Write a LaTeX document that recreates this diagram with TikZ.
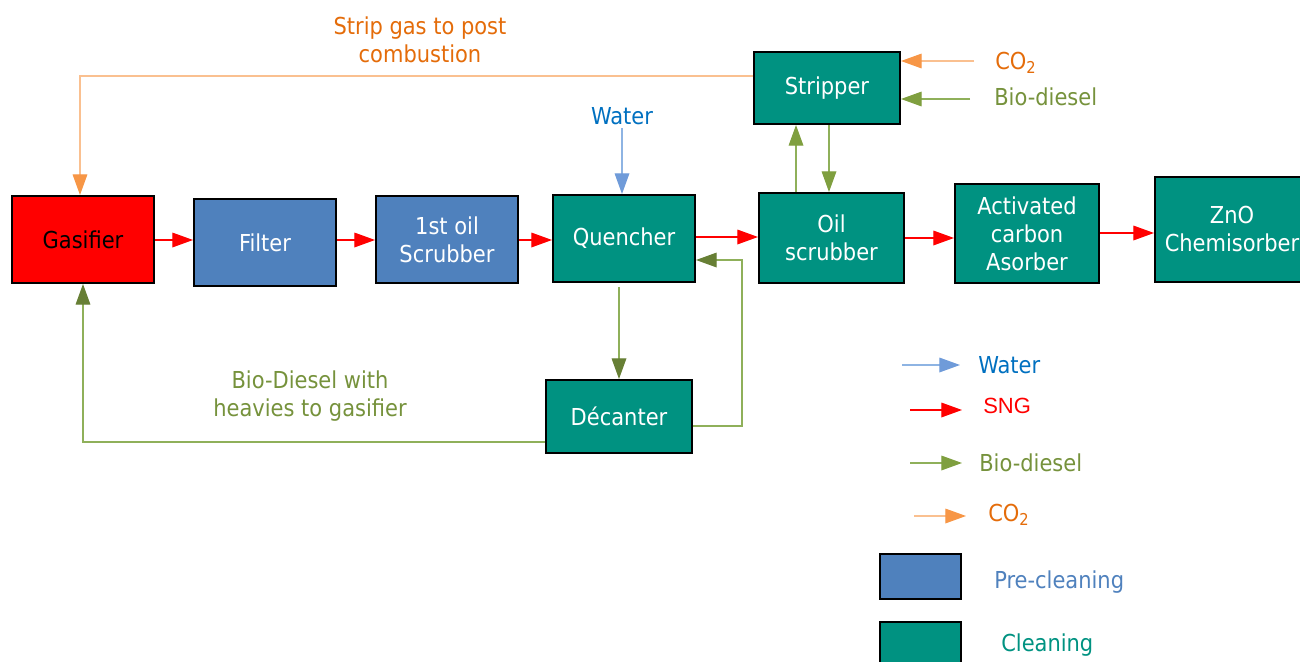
\documentclass[tikz,border=0pt]{standalone}
\usepackage{fontspec}
\setmainfont{DejaVu Sans Condensed}
\newfontfamily\arialf{Liberation Sans}
\usetikzlibrary{arrows.meta}
\definecolor{tealc}{HTML}{009281}
\definecolor{preblue}{HTML}{4F81BD}
\definecolor{orangetxt}{HTML}{E46C0A}
\definecolor{orangeln}{HTML}{FAC090}
\definecolor{orangehd}{HTML}{F79646}
\definecolor{greentxt}{HTML}{76923C}
\definecolor{greenln}{HTML}{8FB05A}
\definecolor{greenhd}{HTML}{7F9F3F}
\definecolor{olivehd}{HTML}{677F35}
\definecolor{waterln}{HTML}{8EB4E3}
\definecolor{waterhd}{HTML}{6F9BD9}
\definecolor{watertxt}{HTML}{0070C0}
\definecolor{snghd}{HTML}{FF0000}
\tikzset{
  lbl/.style={font=\fontsize{17.5}{21}\selectfont, align=center, inner sep=0pt},
  box/.style={draw=black, line width=1.5pt, align=center, text=white, inner sep=0pt,
    font=\fontsize{17.5}{21}\selectfont},
  clbox/.style={box, fill=tealc},
  prebox/.style={box, fill=preblue},
  sng/.style={draw=snghd, line width=0.9pt, -{Triangle[length=15.5pt,width=11pt,color=snghd]}},
  wat/.style={draw=waterln, line width=0.9pt, -{Triangle[length=15.5pt,width=11pt,color=waterhd]}},
  bio/.style={draw=greenln, line width=0.9pt, -{Triangle[length=15.5pt,width=11pt,color=greenhd]}},
  dbio/.style={draw=greenln, line width=0.9pt, -{Triangle[length=15.5pt,width=11pt,color=olivehd]}},
  cot/.style={draw=orangeln, line width=0.9pt, -{Triangle[length=15.5pt,width=11pt,color=orangehd]}},
}
\begin{document}
\begin{tikzpicture}[x=0.75pt,y=-0.75pt]
\useasboundingbox (0,0) rectangle (1300,661);
% process boxes
\node[box, fill=red, text=black, minimum width=106.5pt, minimum height=65.25pt] (gas) at (83,239.5) {Gasifier};
\node[prebox, minimum width=106.5pt, minimum height=65.25pt] (fil) at (265,242.5) {Filter};
\node[prebox, minimum width=106.5pt, minimum height=65.25pt] (os1) at (447,239.5) {1st oil\\Scrubber};
\node[clbox, minimum width=106.5pt, minimum height=65.25pt] (que) at (624,238.5) {Quencher};
\node[clbox, minimum width=109.5pt, minimum height=54pt] (str) at (827,88) {Stripper};
\node[clbox, minimum width=108.75pt, minimum height=67.5pt] (osc) at (831.5,238) {Oil\\scrubber};
\node[clbox, minimum width=108pt, minimum height=74.25pt] (act) at (1027,233.5) {Activated\\carbon\\Asorber};
\node[clbox, minimum width=115.5pt, minimum height=78.75pt] (zno) at (1232,229.5) {ZnO\\Chemisorber};
\node[clbox, minimum width=109.5pt, minimum height=54.75pt] (dec) at (619,416.5) {Décanter};

% labels
\node[lbl, text=orangetxt] (striplbl) at (420,40) {Strip gas to post\\combustion};
\node[lbl, text=watertxt] (waterlbl) at (622,116) {Water};
\node[lbl, text=orangetxt, anchor=west] (co2lbl) at (995,63) {CO\textsubscript{2}};
\node[lbl, text=greentxt, anchor=west] (biolbl) at (994,97) {Bio-diesel};
\node[lbl, text=greentxt] (heavlbl) at (310,396) {Bio-Diesel with\\heavies to gasifier};

% SNG main line
\draw[sng] (gas.east |- 0,240) -- (fil.west |- 0,240);
\draw[sng] (fil.east |- 0,240) -- (os1.west |- 0,240);
\draw[sng] (os1.east |- 0,240) -- (que.west |- 0,240);
\draw[sng] (que.east |- 0,237) -- (osc.west |- 0,237);
\draw[sng] (osc.east |- 0,238) -- (act.west |- 0,238);
\draw[sng] (act.east |- 0,233) -- (zno.west |- 0,233);

% water
\coordinate (wtop) at (622,128);
\draw[wat] (wtop) -- (que.north -| wtop);

% stripper loop
\draw[bio] (osc.north -| 796,0) -- (str.south -| 796,0);
\draw[bio] (str.south -| 829,0) -- (osc.north -| 829,0);

% stripper inputs
\coordinate (co2in) at (974,61);
\coordinate (bioin) at (970,99);
\draw[cot] (co2in) -- (str.east |- co2in);
\draw[bio] (bioin) -- (str.east |- bioin);

% strip gas to gasifier
\draw[cot] (str.west |- 0,76) -- (80,76) -- (gas.north -| 80,0);

% quencher - decanter
\draw[dbio] (que.south -| 619,0) ++(0,4) -- (dec.north -| 619,0);
\draw[dbio] (dec.east |- 0,426) -- (742,426) -- (742,260) -- (que.east |- 0,260);
\draw[dbio] (dec.west |- 0,442) -- (83,442) -- (gas.south -| 83,0);

% legend
\coordinate (lw1) at (902,365); \coordinate (lw2) at (960,365);
\coordinate (ls1) at (910,410); \coordinate (ls2) at (962,410);
\coordinate (lb1) at (910,463); \coordinate (lb2) at (962,463);
\coordinate (lc1) at (914,516); \coordinate (lc2) at (966,516);
\draw[wat] (lw1) -- (lw2);
\draw[sng] (ls1) -- (ls2);
\draw[bio] (lb1) -- (lb2);
\draw[cot] (lc1) -- (lc2);
\node[lbl, text=watertxt, anchor=west] (lgw) at (978,365) {Water};
\node[lbl, text=red, anchor=west, font=\arialf\fontsize{16.5}{20}\selectfont] (lgs) at (983,406) {SNG};
\node[lbl, text=greentxt, anchor=west] (lgb) at (979,463) {Bio-diesel};
\node[lbl, text=orangetxt, anchor=west] (lgc) at (988,515) {CO\textsubscript{2}};
\node[prebox, minimum width=60.75pt, minimum height=33.75pt] (lgpre) at (920.5,576.5) {};
\node[clbox, minimum width=60.75pt, minimum height=34.5pt] (lgcl) at (920.5,645) {};
\node[lbl, text=preblue, anchor=west] (lgprel) at (994,582) {Pre-cleaning};
\node[lbl, text=tealc, anchor=west] (lgcll) at (1001,645) {Cleaning};
\end{tikzpicture}
\end{document}
